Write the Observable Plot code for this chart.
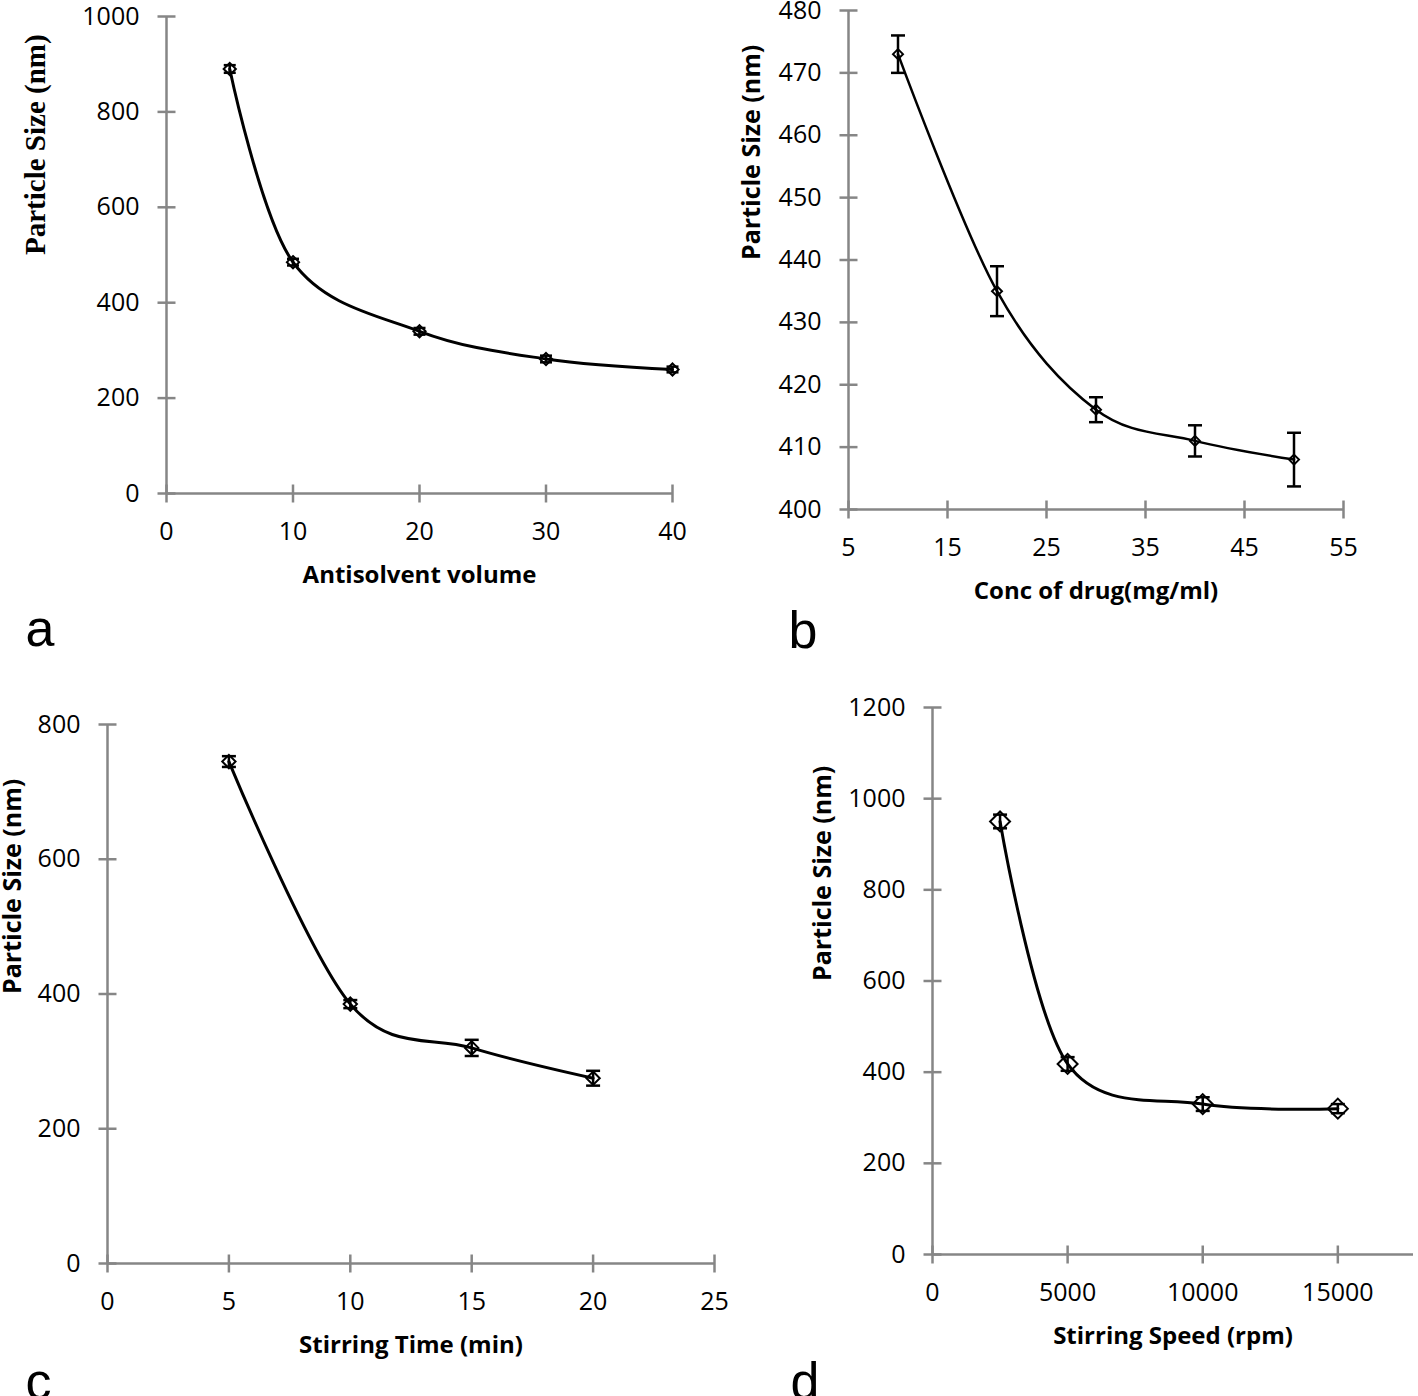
<!DOCTYPE html>
<html><head><meta charset="utf-8">
<script src="https://cdn.jsdelivr.net/npm/d3@7"></script>
<script src="https://cdn.jsdelivr.net/npm/@observablehq/plot@0.6"></script>
<style>
html,body{margin:0;padding:0;background:#fff;}
#fig{position:relative;width:1418px;height:1396px;overflow:hidden;background:#fff;}
</style></head><body><div id="fig"></div>
<script>
// ---- Panel a ----
const aX = [5, 10, 20, 30, 40];
const aY = [890, 485, 340, 282, 260];
const aErr = [8, 7, 7, 7, 6];
const aXTicks = [0, 10, 20, 30, 40];
const aYTicks = [0, 200, 400, 600, 800, 1000];
const aXTitle = "Antisolvent volume";
const aYTitle = "Particle Size (nm)";

// ---- Panel b ----
const bX = [10, 20, 30, 40, 50];
const bY = [473, 435, 416, 411, 408];
const bErr = [3, 4, 2, 2.5, 4.3];
const bXTicks = [5, 15, 25, 35, 45, 55];
const bYTicks = [400, 410, 420, 430, 440, 450, 460, 470, 480];
const bXTitle = "Conc of drug(mg/ml)";
const bYTitle = "Particle Size (nm)";

// ---- Panel c ----
const cX = [5, 10, 15, 20];
const cY = [745, 385, 320, 275];
const cErr = [8, 6, 12, 11];
const cXTicks = [0, 5, 10, 15, 20, 25];
const cYTicks = [0, 200, 400, 600, 800];
const cXTitle = "Stirring Time (min)";
const cYTitle = "Particle Size (nm)";

// ---- Panel d ----
const dX = [2500, 5000, 10000, 15000];
const dY = [950, 418, 330, 320];
const dErr = [15, 15, 15, 10];
const dXTicks = [0, 5000, 10000, 15000];
const dYTicks = [0, 200, 400, 600, 800, 1000, 1200];
const dXTitle = "Stirring Speed (rpm)";
const dYTitle = "Particle Size (nm)";

const AXIS = "#868686";
const vline = {draw(ctx, size){ const r = Math.sqrt(size / Math.PI); ctx.moveTo(0, -r); ctx.lineTo(0, r); }};
const hline = {draw(ctx, size){ const r = Math.sqrt(size / Math.PI); ctx.moveTo(-r, 0); ctx.lineTo(r, 0); }};
const SANS = "'Open Sans', sans-serif";
const SMOOTH = d3.curveCatmullRom.alpha(0);

function panel(c) {
  const rows = c.x.map((x, i) => ({x, y: c.y[i], lo: c.y[i] - c.err[i], hi: c.y[i] + c.err[i]}));
  const x0 = c.xDomain[0], y0 = c.yDomain[0];
  const svg = Plot.plot({
    width: c.width, height: c.height,
    marginLeft: c.ml, marginRight: c.mr, marginTop: c.mt, marginBottom: c.mb,
    style: {fontFamily: SANS, color: "#000", background: "transparent"},
    x: {domain: c.xDomain},
    y: {domain: c.yDomain},
    marks: [
      Plot.ruleX([x0], {stroke: AXIS, strokeWidth: 2.5}),
      Plot.ruleY([y0], {stroke: AXIS, strokeWidth: 2.5}),
      Plot.dot(c.xTicks, {x: d => d, y: () => y0, symbol: vline, r: 9, stroke: AXIS, strokeWidth: 2.5}),
      Plot.dot(c.yTicks, {x: () => x0, y: d => d, symbol: hline, r: 9, stroke: AXIS, strokeWidth: 2.5}),
      Plot.axisX(c.xTicks, {tickSize: 0, tickPadding: 29, fontSize: 25, tickFormat: d => String(d), label: null}),
      Plot.axisY(c.yTicks, {tickSize: 0, tickPadding: 27, fontSize: 25, tickFormat: d => String(d), label: null}),
      Plot.line(rows, {x: "x", y: "y", curve: SMOOTH, stroke: "#000", strokeWidth: c.lw}),
      Plot.ruleX(rows, {x: "x", y1: "lo", y2: "hi", stroke: "#000", strokeWidth: 2.5}),
      Plot.dot(rows, {x: "x", y: "hi", symbol: hline, r: c.cap, stroke: "#000", strokeWidth: 2.5}),
      Plot.dot(rows, {x: "x", y: "lo", symbol: hline, r: c.cap, stroke: "#000", strokeWidth: 2.5}),
      Plot.dot(rows, {x: "x", y: "y", symbol: "diamond2", r: c.marker, stroke: "#000", fill: "none", strokeWidth: 2}),
      Plot.text([c.xTitle], {frameAnchor: "bottom", dy: 82, text: d => d, lineAnchor: "middle", fontSize: 24, fontWeight: "bold", fill: "#000"}),
      Plot.text([c.yTitle], {frameAnchor: "left", dx: c.ytDx, rotate: -90, text: d => d, lineAnchor: "middle", fontSize: c.ytSize, fontWeight: "bold", fontFamily: c.ytFont, fill: "#000"}),
      Plot.text([c.letter], {frameAnchor: "bottom-left", dx: c.lDx, dy: c.lDy, text: d => d, textAnchor: "start", lineAnchor: "bottom", fontSize: 52, fontFamily: "'Liberation Sans', Arial, sans-serif", fill: "#000"})
    ]
  });
  svg.style.position = "absolute";
  svg.style.left = c.left + "px";
  svg.style.top = c.top + "px";
  svg.style.maxWidth = "none";
  document.getElementById("fig").appendChild(svg);
}

panel({x: aX, y: aY, err: aErr, xTicks: aXTicks, yTicks: aYTicks, xTitle: aXTitle, yTitle: aYTitle, letter: "a",
  xDomain: [0, 40], yDomain: [0, 1000], left: 0, top: 0, width: 700, height: 680,
  ml: 166, mr: 28, mt: 16, mb: 187, lw: 3, cap: 6, marker: 5.5,
  ytDx: -131, ytSize: 29, ytFont: "Liberation Serif", lDx: -141, lDy: 152});

panel({x: bX, y: bY, err: bErr, xTicks: bXTicks, yTicks: bYTicks, xTitle: bXTitle, yTitle: bYTitle, letter: "b",
  xDomain: [5, 55], yDomain: [400, 480], left: 700, top: 0, width: 718, height: 680,
  ml: 148, mr: 75, mt: 10, mb: 171, lw: 2.5, cap: 7, marker: 4.5,
  ytDx: -97, ytSize: 25, ytFont: SANS, lDx: -60, lDy: 138});

panel({x: cX, y: cY, err: cErr, xTicks: cXTicks, yTicks: cYTicks, xTitle: cXTitle, yTitle: cYTitle, letter: "c",
  xDomain: [0, 25], yDomain: [0, 800], left: 0, top: 690, width: 760, height: 706,
  ml: 107, mr: 46, mt: 34, mb: 133, lw: 3, cap: 7, marker: 6,
  ytDx: -95, ytSize: 25, ytFont: SANS, lDx: -82, lDy: 135});

panel({x: dX, y: dY, err: dErr, xTicks: dXTicks, yTicks: dYTicks, xTitle: dXTitle, yTitle: dYTitle, letter: "d",
  xDomain: [0, 17800], yDomain: [0, 1200], left: 760, top: 690, width: 658, height: 706,
  ml: 172, mr: 5, mt: 17, mb: 142, lw: 3, cap: 7, marker: 9,
  ytDx: -110, ytSize: 25, ytFont: SANS, lDx: -142, lDy: 144});
</script>
</body></html>
